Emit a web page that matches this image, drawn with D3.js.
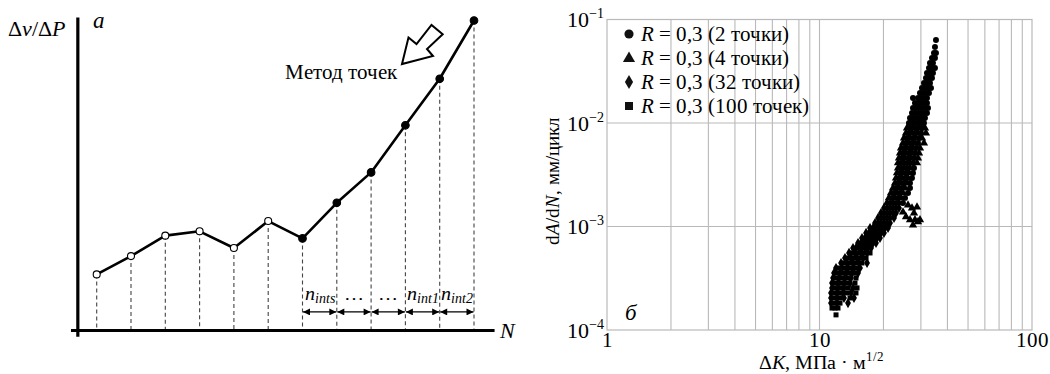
<!DOCTYPE html>
<html>
<head>
<meta charset="utf-8">
<script src="https://cdn.jsdelivr.net/npm/d3@7"></script>
<style>
  @font-face { font-family: "ChartSerif"; font-style: normal; src: local("Liberation Serif"), local("LiberationSerif"), local("Liberation Serif Regular"), local("LiberationSerif-Regular"); }
  @font-face { font-family: "ChartSerif"; font-style: italic; src: local("Liberation Serif Italic"), local("LiberationSerif-Italic"); }
  body { margin: 0; background: #fff; }
  svg text, svg tspan { font-family: "ChartSerif", "Liberation Serif"; }
</style>
</head>
<body>
<svg id="fig" width="1050" height="374"></svg>
<script>
// ---------- Panel (а): point-method schematic ----------
const stepIndex = [1, 2, 3, 4, 5, 6, 7, 8, 9, 10, 11, 12];
const signal = [1.81, 2.40, 3.06, 3.20, 2.66, 3.53, 2.97, 4.12, 5.10, 6.62, 8.12, 10.0];
const firstFilledStep = 7;
const intervalLabels = [
  { main: "n", sub: "ints" },
  { main: "…", sub: "" },
  { main: "…", sub: "" },
  { main: "n", sub: "int1" },
  { main: "n", sub: "int2" }
];

// ---------- Panel (б): da/dN vs ΔK, pairs [ΔK (МПа·м^1/2), dA/dN (мм/цикл)] ----------
const seriesNames = ["(2 точки)", "(4 точки)", "(32 точки)", "(100 точек)"];
const rValue = "0,3";

const pts2 = [
  [35.33,0.0634],[34.95,0.0542],[34.57,0.0475],[35.33,0.0475],
  [33.83,0.0425],[34.95,0.0425],[33.11,0.0380],[34.20,0.0380],
  [32.75,0.0340],[33.83,0.0340],[34.95,0.0340],
  [32.05,0.0304],[33.11,0.0304],[34.20,0.0304],
  [31.70,0.0272],[32.75,0.0272],[33.83,0.0272],
  [31.02,0.0243],[32.05,0.0243],[33.11,0.0243],
  [30.36,0.0218],[31.36,0.0218],[32.40,0.0218],[33.47,0.0218],
  [29.71,0.0195],[30.69,0.0195],[31.70,0.0195],[32.75,0.0195],
  [29.07,0.0174],[30.03,0.0174],[31.02,0.0174],[32.05,0.0174],[27.54,0.0174],
  [28.14,0.0156],[29.07,0.0156],[30.03,0.0156],[31.02,0.0156],[32.05,0.0156],
  [27.54,0.0140],[28.45,0.0140],[29.39,0.0140],[30.36,0.0140],[31.36,0.0140],[32.40,0.0140],
  [27.24,0.0125],[28.14,0.0125],[29.07,0.0125],[30.03,0.0125],[31.02,0.0125],[32.05,0.0125],
  [26.66,0.0112],[27.54,0.0112],[28.45,0.0112],[29.39,0.0112],[30.36,0.0112],[31.36,0.0112],
  [26.37,0.0100],[27.24,0.0100],[28.14,0.0100],[29.07,0.0100],[30.03,0.0100],[31.02,0.0100],
  [26.66,0.00895],[28.45,0.00895],[30.36,0.00895],
  [26.37,0.00800],[28.14,0.00800],[30.03,0.00800],
  [25.81,0.00716],[27.54,0.00716],[29.39,0.00716],
  [25.53,0.00641],[27.24,0.00641],[29.07,0.00641],
  [24.98,0.00573],[26.66,0.00573],[28.45,0.00573],
  [24.71,0.00513],[26.37,0.00513],[28.14,0.00513],
  [24.44,0.00459],[26.09,0.00459],[27.84,0.00459],
  [24.18,0.00411],[25.81,0.00411],[27.54,0.00411],
  [24.18,0.00367],[25.81,0.00367],[27.84,0.00367],
  [23.92,0.00329],[25.53,0.00329],[27.54,0.00329],
  [23.66,0.00294],[25.26,0.00294],[27.24,0.00294],
  [23.41,0.00263],[24.98,0.00263],[26.66,0.00263],
  [22.91,0.00235],[24.44,0.00235],[26.66,0.00235],
  [22.42,0.00211],[23.92,0.00211],[26.09,0.00211],
  [21.94,0.00189],[23.41,0.00189],[25.26,0.00189],
  [21.47,0.00169],[22.91,0.00169],[24.71,0.00169]
];

const pts4 = [
  [25.81,0.00895],[27.54,0.00895],[29.39,0.00895],[31.36,0.00895],
  [25.53,0.00800],[27.24,0.00800],[29.07,0.00800],[31.70,0.00800],
  [24.98,0.00716],[26.66,0.00716],[28.45,0.00716],[30.36,0.00716],
  [24.71,0.00641],[26.37,0.00641],[28.14,0.00641],[31.02,0.00641],
  [24.18,0.00573],[25.81,0.00573],[27.54,0.00573],[29.71,0.00573],
  [23.92,0.00513],[25.53,0.00513],[27.24,0.00513],[29.39,0.00513],
  [23.66,0.00459],[25.26,0.00459],[26.95,0.00459],[29.07,0.00459],
  [23.41,0.00411],[24.98,0.00411],[26.66,0.00411],[28.76,0.00411],
  [23.41,0.00367],[24.98,0.00367],[26.66,0.00367],
  [23.16,0.00329],[24.71,0.00329],[26.37,0.00329],
  [22.91,0.00294],[24.44,0.00294],[26.09,0.00294],
  [22.66,0.00263],[24.18,0.00263],[25.81,0.00263],
  [22.18,0.00235],[23.66,0.00235],[25.26,0.00235],
  [21.70,0.00211],[23.16,0.00211],[24.71,0.00211],
  [21.23,0.00189],[22.66,0.00189],[24.18,0.00189],
  [20.78,0.00169],[22.18,0.00169],[23.66,0.00169],
  [27.24,0.00151],[28.76,0.00154],[27.84,0.00135],[24.71,0.00138],[26.09,0.00161],
  [26.66,0.00116],[28.14,0.00116],[29.71,0.00116],[27.54,0.00103],[29.07,0.00111],[25.53,0.00124]
];

const pts32 = [
  [20.11,0.00151],[20.78,0.00151],[21.47,0.00151],[22.18,0.00151],[22.91,0.00151],[23.66,0.00151],
  [19.47,0.00135],[20.11,0.00135],[20.78,0.00135],[21.47,0.00135],[22.18,0.00135],[22.91,0.00135],
  [18.86,0.00121],[19.47,0.00121],[20.11,0.00121],[20.78,0.00121],[21.47,0.00121],[22.42,0.00121],
  [18.25,0.00108],[18.86,0.00108],[19.47,0.00108],[20.11,0.00108],[20.78,0.00108],[21.47,0.00108],
  [17.29,0.000967],[17.86,0.000967],[18.45,0.000967],[19.05,0.000967],[19.68,0.000967],[20.33,0.000967],[21.01,0.000967],
  [16.56,0.000866],[17.11,0.000866],[17.67,0.000866],[18.25,0.000866],[18.86,0.000866],[19.47,0.000866],[20.11,0.000866],
  [15.85,0.000774],[16.38,0.000774],[16.92,0.000774],[17.48,0.000774],[18.06,0.000774],[18.65,0.000774],[19.26,0.000774],
  [15.18,0.000693],[15.68,0.000693],[16.20,0.000693],[16.74,0.000693],[17.29,0.000693],[17.86,0.000693],[18.45,0.000693],
  [14.38,0.000620],[14.85,0.000620],[15.35,0.000620],[15.85,0.000620],[16.38,0.000620],[16.92,0.000620],[17.48,0.000620],
  [13.77,0.000555],[14.69,0.000555],[15.68,0.000555],[16.74,0.000555],
  [13.18,0.000496],[14.07,0.000496],[15.02,0.000496],[16.03,0.000496],
  [12.63,0.000444],[13.47,0.000444],[14.38,0.000444],[15.35,0.000444],[16.74,0.000444],
  [11.96,0.000397],[12.76,0.000397],[13.62,0.000397],[14.53,0.000397],[15.51,0.000397],
  [11.70,0.000355],[12.49,0.000355],[13.33,0.000355],[14.22,0.000355],[15.18,0.000355],
  [11.58,0.000318],[12.36,0.000318],[13.18,0.000318],[14.07,0.000318],
  [11.45,0.000284],[12.22,0.000284],[13.04,0.000284],[13.92,0.000284],
  [11.45,0.000255],[12.22,0.000255],[13.04,0.000255],[14.38,0.000255],
  [11.33,0.000228],[12.09,0.000228],[12.90,0.000228],[14.07,0.000228],
  [11.33,0.000204],[12.09,0.000204],[13.04,0.000204],[14.53,0.000204],
  [11.33,0.000182],[12.09,0.000182],[13.62,0.000182]
];

const pts100 = [
  [14.22,0.000555],[15.18,0.000555],[16.20,0.000555],[17.29,0.000555],
  [13.62,0.000496],[14.53,0.000496],[15.51,0.000496],[16.56,0.000496],
  [13.04,0.000444],[13.92,0.000444],[14.85,0.000444],[15.85,0.000444],
  [12.36,0.000397],[13.18,0.000397],[14.07,0.000397],[15.02,0.000397],
  [12.09,0.000355],[12.90,0.000355],[13.77,0.000355],[14.69,0.000355],
  [11.96,0.000318],[12.76,0.000318],[13.62,0.000318],[14.85,0.000318],
  [11.83,0.000284],[12.63,0.000284],[13.47,0.000284],[14.69,0.000284],
  [11.83,0.000255],[12.63,0.000255],[13.62,0.000255],[15.02,0.000255],
  [11.70,0.000228],[12.49,0.000228],[13.47,0.000228],[14.85,0.000228],
  [11.70,0.000204],[12.49,0.000204],[13.92,0.000204],
  [11.70,0.000182],[12.49,0.000182],
  [11.45,0.000163],[11.83,0.000163],[12.22,0.000163],
  [11.96,0.000140]
];

const yTickPowers = [-1, -2, -3, -4];
const xTickValues = [1, 10, 100];

const svg = d3.select("#fig");
const serif = '"ChartSerif", "Liberation Serif"';
const txt = (sel) => sel.append("text").style("font-family", serif).attr("fill", "#000");

// ===== Panel а =====
const xA = d3.scaleLinear().domain([1, 12]).range([96.7, 474]);
const yA = d3.scaleLinear().domain([0, 10]).range([330.5, 20.5]);
const gA = svg.append("g");

const pts = stepIndex.map((n, i) => ({ n, v: signal[i] }));

// dashed drop lines
gA.selectAll("line.drop").data(pts).join("line")
  .attr("x1", d => xA(d.n)).attr("x2", d => xA(d.n))
  .attr("y1", d => yA(d.v)).attr("y2", yA(0))
  .attr("stroke", "#444").attr("stroke-width", 1.1)
  .attr("stroke-dasharray", "4,3");

// axes
gA.append("line")
  .attr("x1", xA(0.45)).attr("x2", xA(0.45))
  .attr("y1", yA(10.1)).attr("y2", yA(-0.2))
  .attr("stroke", "#000").attr("stroke-width", 3.2);
gA.append("line")
  .attr("x1", xA(0.25)).attr("x2", xA(12.6))
  .attr("y1", yA(0)).attr("y2", yA(0))
  .attr("stroke", "#000").attr("stroke-width", 3.2);

// polyline
gA.append("path")
  .datum(pts)
  .attr("d", d3.line().x(d => xA(d.n)).y(d => yA(d.v)))
  .attr("fill", "none").attr("stroke", "#000").attr("stroke-width", 2.6)
  .attr("stroke-linejoin", "round");

gA.selectAll("circle.pt").data(pts).join("circle")
  .attr("cx", d => xA(d.n)).attr("cy", d => yA(d.v))
  .attr("r", d => d.n >= firstFilledStep ? 3.8 : 3.5)
  .attr("fill", d => d.n >= firstFilledStep ? "#000" : "#fff")
  .attr("stroke", "#000").attr("stroke-width", 1.1);

// interval arrows
const defs = svg.append("defs");
["arrEnd", "arrStart"].forEach((id, k) => {
  defs.append("marker").attr("id", id)
    .attr("viewBox", "0 0 10 10").attr("refX", 10).attr("refY", 5)
    .attr("markerWidth", 9).attr("markerHeight", 7)
    .attr("markerUnits", "userSpaceOnUse")
    .attr("orient", k === 0 ? "auto" : "auto-start-reverse")
    .append("path").attr("d", "M0,0 L10,5 L0,10 Z").attr("fill", "#000");
});
const intervals = intervalLabels.map((lab, i) => ({ a: firstFilledStep + i, b: firstFilledStep + i + 1, lab }));
gA.selectAll("line.iv").data(intervals).join("line")
  .attr("x1", d => xA(d.a) + 0.5).attr("x2", d => xA(d.b) - 0.5)
  .attr("y1", yA(0.6)).attr("y2", yA(0.6))
  .attr("stroke", "#000").attr("stroke-width", 1.3)
  .attr("marker-end", "url(#arrEnd)").attr("marker-start", "url(#arrStart)");
intervals.forEach(d => {
  const t = txt(gA).attr("x", (xA(d.a) + xA(d.b)) / 2).attr("y", yA(1.0))
    .attr("text-anchor", "middle").attr("font-size", 20);
  t.append("tspan").attr("font-style", d.lab.sub ? "italic" : "normal").text(d.lab.main);
  if (d.lab.sub) t.append("tspan").attr("font-style", "italic").attr("font-size", 14).attr("dy", 3).text(d.lab.sub);
});

// hollow pointer arrow
gA.append("path")
  .attr("d", "M402,64 L408.5,37.5 L416.5,44 L431.5,25 L442.7,34.3 L427,49 L433,56 Z")
  .attr("fill", "#fff").attr("stroke", "#000").attr("stroke-width", 2).attr("stroke-linejoin", "miter");
txt(gA).attr("x", 285).attr("y", 78.5).attr("font-size", 20.5).text("Метод точек");

// labels
const yLab = txt(gA).attr("x", 8).attr("y", 35.5).attr("font-size", 22);
yLab.append("tspan").text("Δ");
yLab.append("tspan").attr("font-style", "italic").text("v");
yLab.append("tspan").text("/Δ");
yLab.append("tspan").attr("font-style", "italic").text("P");
txt(gA).attr("x", 93).attr("y", 28).attr("font-size", 23).attr("font-style", "italic").text("а");
txt(gA).attr("x", 500).attr("y", 337.5).attr("font-size", 22).attr("font-style", "italic").text("N");

// ===== Panel б =====
const xB = d3.scaleLog().domain([1, 100]).range([607, 1032]);
const yB = d3.scaleLog().domain([1e-4, 1e-1]).range([330, 19.5]);
const gB = svg.append("g");
const gridColor = "#b9b9b9";

gB.selectAll("line.vg").data(xB.ticks().filter(v => v > 1 && v < 100)).join("line")
  .attr("x1", d => xB(d)).attr("x2", d => xB(d))
  .attr("y1", yB(1e-1)).attr("y2", yB(1e-4))
  .attr("stroke", gridColor).attr("stroke-width", 1.1);
gB.selectAll("line.hg").data([1e-2, 1e-3]).join("line")
  .attr("x1", xB(1)).attr("x2", xB(100))
  .attr("y1", d => yB(d)).attr("y2", d => yB(d))
  .attr("stroke", gridColor).attr("stroke-width", 1.1);
gB.append("rect")
  .attr("x", xB(1)).attr("y", yB(1e-1))
  .attr("width", xB(100) - xB(1)).attr("height", yB(1e-4) - yB(1e-1))
  .attr("fill", "none").attr("stroke", gridColor).attr("stroke-width", 1.2);

// y tick labels 10^k
yTickPowers.forEach(p => {
  const t = txt(gB).attr("x", 604).attr("y", yB(Math.pow(10, p)) + 7.5)
    .attr("text-anchor", "end").attr("font-size", 22);
  t.append("tspan").text("10");
  t.append("tspan").attr("font-size", 14).attr("dy", -9).text("−" + Math.abs(p));
});

xTickValues.forEach(v => {
  txt(gB).attr("x", xB(v)).attr("y", 347)
    .attr("text-anchor", "middle").attr("font-size", 21).text(v);
});

// scatter
const sym = (type, size) => d3.symbol().type(type).size(size)();
const series = [
  { data: pts2, type: d3.symbolCircle, size: 28, legSize: 66 },
  { data: pts4, type: d3.symbolTriangle, size: 30, legSize: 64 },
  { data: pts32, type: d3.symbolDiamond, size: 30, legSize: 58 },
  { data: pts100, type: d3.symbolSquare, size: 25, legSize: 64 }
];
series.forEach(s => {
  gB.append("g").selectAll("path").data(s.data).join("path")
    .attr("d", sym(s.type, s.size))
    .attr("transform", d => `translate(${xB(d[0])},${yB(d[1])})`)
    .attr("fill", "#000");
});

// legend
const legRows = [34, 58.5, 82, 106];
series.forEach((s, i) => {
  gB.append("path").attr("d", sym(s.type, s.legSize))
    .attr("transform", `translate(629,${legRows[i]})`).attr("fill", "#111");
  const t = txt(gB).attr("x", 641).attr("y", legRows[i] + 6.5).attr("font-size", 20.5);
  t.append("tspan").attr("font-style", "italic").text("R");
  t.append("tspan").text(` = ${rValue} ${seriesNames[i]}`);
});

txt(gB).attr("x", 625).attr("y", 320).attr("font-size", 23).attr("font-style", "italic").text("б");

// axis titles
const xt = txt(gB).attr("x", 821).attr("y", 368.5).attr("text-anchor", "middle").attr("font-size", 20);
xt.append("tspan").text("Δ");
xt.append("tspan").attr("font-style", "italic").text("K");
xt.append("tspan").text(", МПа · м");
xt.append("tspan").attr("font-size", 13).attr("dy", -8).text("1/2");

const ytl = txt(gB)
  .attr("transform", "translate(559,181) rotate(-90)")
  .attr("text-anchor", "middle").attr("font-size", 19);
ytl.append("tspan").text("d");
ytl.append("tspan").attr("font-style", "italic").text("A");
ytl.append("tspan").text("/d");
ytl.append("tspan").attr("font-style", "italic").text("N");
ytl.append("tspan").text(", мм/цикл");
</script>
</body>
</html>
